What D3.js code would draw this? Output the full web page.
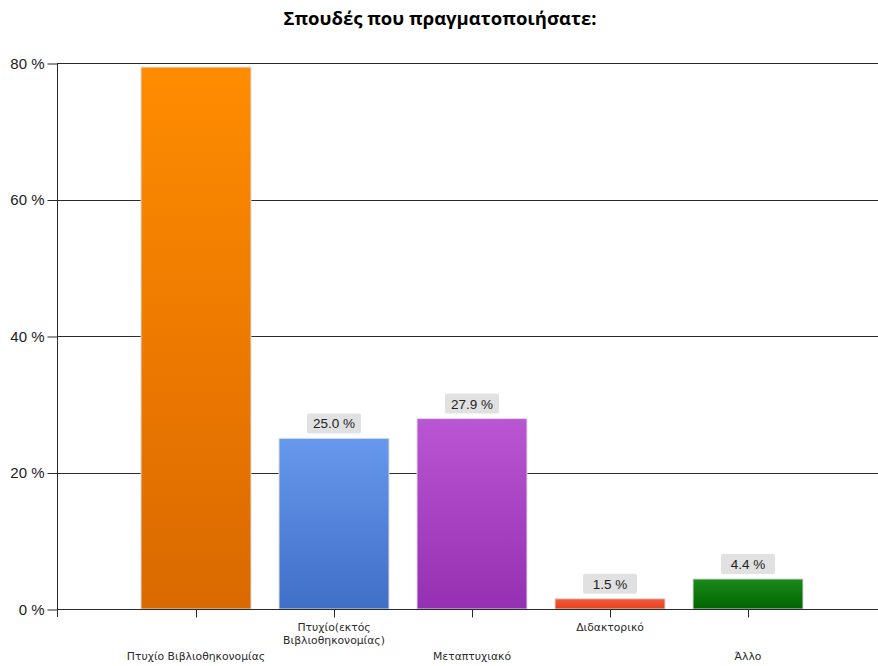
<!DOCTYPE html>
<html>
<head>
<meta charset="utf-8">
<script src="https://cdn.jsdelivr.net/npm/d3@7"></script>
<style>
  html, body { margin: 0; padding: 0; background: #fff; }
  svg { display: block; }
</style>
</head>
<body>
<svg id="chart" width="878" height="666"></svg>
<script>
// Survey answers: studies completed (share of respondents, %)
const title = "Σπουδές που πραγματοποιήσατε:";
const categories = [
  "Πτυχίο Βιβλιοθηκονομίας",
  "Πτυχίο(εκτός Βιβλιοθηκονομίας)",
  "Μεταπτυχιακό",
  "Διδακτορικό",
  "Άλλο"
];
const values = [79.4, 25.0, 27.9, 1.5, 4.4];
const showLabel = [false, true, true, true, true];
const yTicks = [0, 20, 40, 60, 80];
const topColors = ["#ff8c00", "#6698ee", "#ba55d3", "#f65a3e", "#1b8a1b"];
const bottomColors = ["#da6900", "#3f6fc6", "#9530b2", "#e0421f", "#006400"];

const svg = d3.select("#chart");
const plotLeft = 57, plotTop = 63, plotBottom = 609;

const y = d3.scaleLinear().domain([0, 80]).range([plotBottom, plotTop]);
const x = d3.scaleBand()
  .domain(categories)
  .range([plotLeft + 70, plotLeft + 70 + 690])
  .paddingInner(28 / 138)
  .paddingOuter(14 / 138);

// gradients for bars
const defs = svg.append("defs");
categories.forEach((c, i) => {
  const g = defs.append("linearGradient")
    .attr("id", "grad" + i)
    .attr("x1", 0).attr("y1", 0).attr("x2", 0).attr("y2", 1);
  g.append("stop").attr("offset", "0%").attr("stop-color", topColors[i]);
  g.append("stop").attr("offset", "100%").attr("stop-color", bottomColors[i]);
});

// title
svg.append("text")
  .attr("x", 440).attr("y", 25)
  .attr("text-anchor", "middle")
  .style("font-family", "'Open Sans', 'Liberation Sans', sans-serif")
  .style("font-weight", "bold")
  .style("font-size", "18.5px")
  .attr("fill", "#000")
  .text(title);

// horizontal gridlines
svg.append("g")
  .selectAll("line")
  .data(yTicks)
  .join("line")
  .attr("x1", plotLeft).attr("x2", 878)
  .attr("y1", d => Math.round(y(d)) + 0.5)
  .attr("y2", d => Math.round(y(d)) + 0.5)
  .attr("stroke", "#2a2a2a")
  .attr("stroke-width", 1);

// y axis
const yAxis = d3.axisLeft(y)
  .tickValues(yTicks)
  .tickFormat(d => d + " %")
  .tickSize(10)
  .tickPadding(3);
const gy = svg.append("g")
  .attr("transform", `translate(${plotLeft + 0.5},0.5)`)
  .call(yAxis);
gy.select(".domain").remove();
gy.selectAll(".tick line").attr("stroke", "#2a2a2a");
gy.selectAll(".tick text")
  .attr("fill", "#222")
  .style("font-family", "'Liberation Sans', Arial, sans-serif")
  .style("font-size", "15px");
svg.append("line")
  .attr("x1", plotLeft + 0.5).attr("x2", plotLeft + 0.5)
  .attr("y1", plotTop).attr("y2", plotBottom + 8)
  .attr("stroke", "#2a2a2a");

// bars
svg.append("g")
  .selectAll("rect")
  .data(values)
  .join("rect")
  .attr("x", (d, i) => x(categories[i]))
  .attr("y", d => y(d))
  .attr("width", x.bandwidth())
  .attr("height", d => plotBottom - y(d))
  .attr("fill", (d, i) => `url(#grad${i})`)
  .attr("stroke", "#dcdcdc")
  .attr("stroke-width", 1);

// x axis baseline and ticks
const gx = svg.append("g")
  .attr("transform", `translate(0,${plotBottom + 0.5})`);
gx.append("line")
  .attr("x1", plotLeft).attr("x2", 878)
  .attr("stroke", "#2a2a2a");
gx.selectAll("line.tk")
  .data(categories)
  .join("line")
  .attr("class", "tk")
  .attr("x1", d => Math.floor(x(d) + x.bandwidth() / 2) + 0.5)
  .attr("x2", d => Math.floor(x(d) + x.bandwidth() / 2) + 0.5)
  .attr("y1", 0).attr("y2", 8)
  .attr("stroke", "#2a2a2a");

// category labels, staggered on two rows
const catFont = "'DejaVu Sans', Verdana, sans-serif";
categories.forEach((c, i) => {
  const cx = x(c) + x.bandwidth() / 2;
  const t = svg.append("text")
    .attr("text-anchor", "middle")
    .attr("fill", "#2a2a2a")
    .style("font-family", catFont)
    .style("font-size", "10.8px");
  if (i % 2 === 0) {
    t.attr("x", cx).attr("y", 660).text(c);
  } else if (c.indexOf("(") >= 0 && c.length > 20) {
    const p = c.indexOf(" ");
    t.append("tspan").attr("x", cx).attr("y", 631).text(c.slice(0, p));
    t.append("tspan").attr("x", cx).attr("y", 644).text(c.slice(p + 1));
  } else {
    t.attr("x", cx).attr("y", 631).text(c);
  }
});

// value labels
const lbl = svg.append("g");
values.forEach((v, i) => {
  if (!showLabel[i]) return;
  const cx = x(categories[i]) + x.bandwidth() / 2;
  const by = y(v);
  const g = lbl.append("g");
  g.append("rect")
    .attr("x", cx - 27).attr("y", by - 25)
    .attr("width", 54).attr("height", 20)
    .attr("rx", 2)
    .attr("fill", "#e1e1e1");
  g.append("text")
    .attr("x", cx).attr("y", by - 10)
    .attr("text-anchor", "middle")
    .attr("fill", "#222")
    .style("font-family", "'Liberation Sans', Arial, sans-serif")
    .style("font-size", "13.5px")
    .text(v.toFixed(1) + " %");
});
</script>
</body>
</html>
